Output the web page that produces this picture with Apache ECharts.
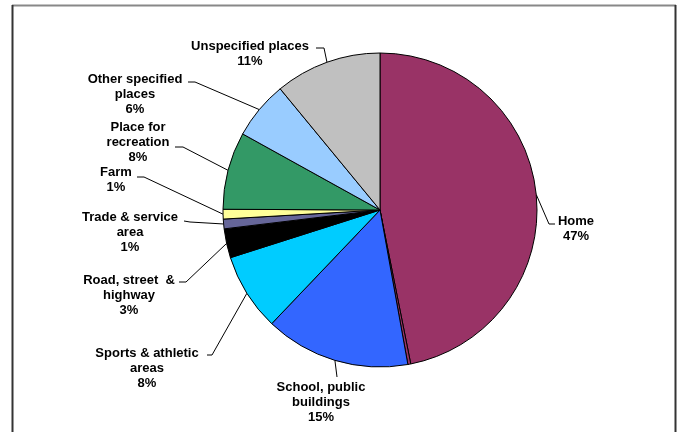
<!DOCTYPE html>
<html>
<head>
<meta charset="utf-8">
<script src="https://cdn.jsdelivr.net/npm/echarts@6/dist/echarts.min.js"></script>
<style>
  html, body { margin: 0; padding: 0; background: #fff; }
  #chart { width: 680px; height: 432px; }
</style>
</head>
<body>
<div id="chart"></div>
<script>
// Place of occurrence, share of cases (%)
const categories = [
  'Home',
  'Residential institution',
  'School, public\nbuildings',
  'Sports & athletic\nareas',
  'Road, street  &\nhighway',
  'Trade & service\narea',
  'Farm',
  'Place for\nrecreation',
  'Other specified\nplaces',
  'Unspecified places'
];
const shares = [47, 0.3, 15, 8, 3, 1, 1, 8, 6, 11];
const showLabel = [true, false, true, true, true, true, true, true, true, true];
const sliceColors = ['#993366', '#993366', '#3366FF', '#00CCFF', '#000000',
                     '#666699', '#FFFF99', '#339966', '#99CCFF', '#C0C0C0'];

// Label placement: [centerX, centerY, leaderEndX, leaderEndY, elbowX, elbowY]
const labelPlacement = [
  [576, 229, 555, 224, 549, 224],
  null,
  [321, 402, 337, 377, 337, 377],
  [147, 368, 207, 355, 212, 355],
  [129, 295, 179, 282, 186, 282],
  [130, 232, 184, 221, 190, 222],
  [116, 180, 137, 177, 144, 177],
  [138, 142, 175, 147, 183, 147],
  [135, 94, 188, 82, 195, 82],
  [250, 54, 316, 48, 324, 48]
];

const chart = echarts.init(document.getElementById('chart'), null, { renderer: 'canvas' });

const option = {
  animation: false,
  backgroundColor: '#ffffff',
  graphic: [
    { type: 'line', shape: { x1: 12, y1: 5.5, x2: 676, y2: 5.5 }, style: { stroke: '#888888', lineWidth: 2 } },
    { type: 'line', shape: { x1: 12.5, y1: 5, x2: 12.5, y2: 432 }, style: { stroke: '#333333', lineWidth: 2 } },
    { type: 'line', shape: { x1: 675.5, y1: 5, x2: 675.5, y2: 432 }, style: { stroke: '#333333', lineWidth: 2 } }
  ],
  series: [{
    type: 'pie',
    center: [380, 210],
    radius: [0, 157],
    startAngle: 90,
    clockwise: true,
    avoidLabelOverlap: false,
    minAngle: 0,
    itemStyle: { borderColor: '#000000', borderWidth: 1 },
    label: {
      show: true,
      position: 'outside',
      formatter: p => p.name + '\n' + p.value + '%',
      fontFamily: 'Liberation Sans, Arial, sans-serif',
      fontWeight: 'bold',
      fontSize: 13,
      lineHeight: 15,
      color: '#000000',
      align: 'center'
    },
    labelLine: { show: true, lineStyle: { color: '#000000', width: 1 } },
    labelLayout: function (params) {
      const pl = labelPlacement[params.dataIndex];
      if (!pl) return {};
      const start = params.labelLinePoints ? params.labelLinePoints[0] : [pl[4], pl[5]];
      return {
        x: pl[0],
        y: pl[1],
        align: 'center',
        verticalAlign: 'middle',
        labelLinePoints: [start, [pl[4], pl[5]], [pl[2], pl[3]]]
      };
    },
    data: categories.map((name, i) => ({
      name: name,
      value: shares[i],
      itemStyle: { color: sliceColors[i] },
      label: { show: showLabel[i] },
      labelLine: { show: showLabel[i] }
    }))
  }]
};

chart.setOption(option);
</script>
</body>
</html>
